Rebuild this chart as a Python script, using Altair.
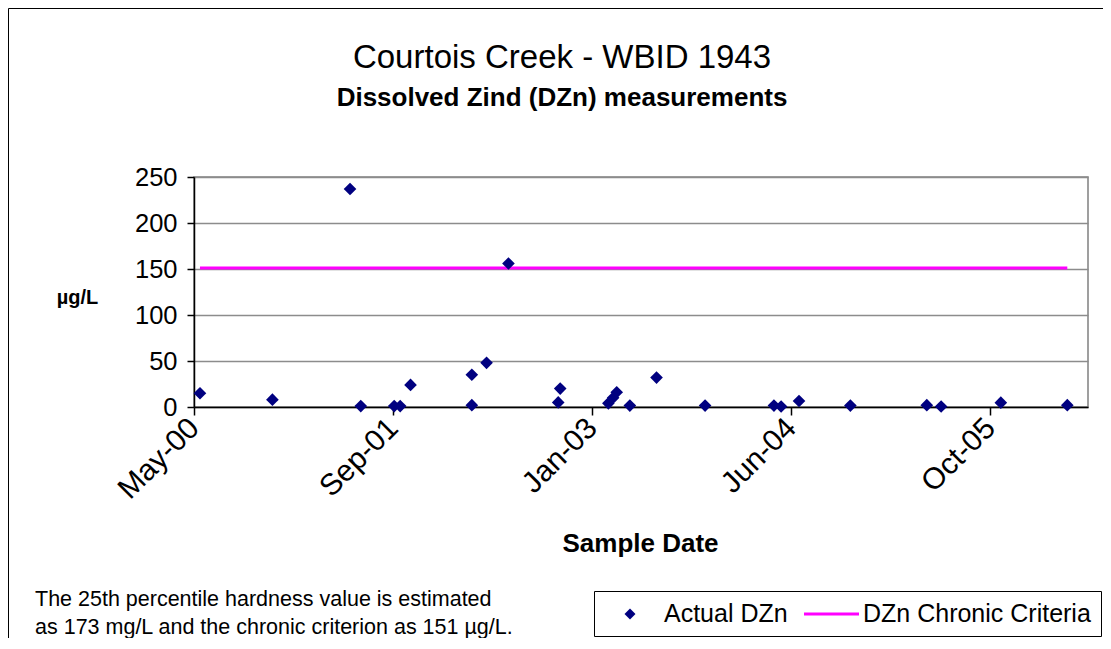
import altair as alt
import pandas as pd

# ---- data ----
sample_dates = [
    "2000-05-16", "2000-11-14", "2001-05-28", "2001-06-24", "2001-09-16",
    "2001-10-01", "2001-10-27", "2002-03-30", "2002-03-30", "2002-05-06",
    "2002-06-30", "2002-11-02", "2002-11-07", "2003-03-08", "2003-03-20",
    "2003-03-29", "2003-05-01", "2003-07-07", "2003-11-06", "2004-04-27",
    "2004-05-15", "2004-06-29", "2004-11-05", "2005-05-16", "2005-06-21",
    "2005-11-18", "2006-05-04",
]
dzn_values = [
    15, 8, 237, 1, 1,
    1, 24, 35, 2, 48,
    156, 5, 20, 4, 10,
    16, 1.5, 32, 1.5, 1.5,
    0.5, 6.5, 1.5, 2, 0.5,
    4.7, 2,
]
series_names = ["Actual DZn", "DZn Chronic Criteria"]
series_colors = ["#000080", "#FF00FF"]
criterion_value = 151
x_domain = [(2000, 5, 1), (2006, 6, 25)]
x_tick_dates = [(2000, 5, 1), (2001, 9, 13), (2003, 1, 26), (2004, 6, 9), (2005, 10, 22)]
y_ticks = [0, 50, 100, 150, 200, 250]
title_text = "Courtois Creek - WBID 1943"
subtitle_text = "Dissolved Zind (DZn) measurements"
note_lines = [
    "The 25th percentile hardness value is estimated",
    "as 173 mg/L and the chronic criterion as 151 µg/L.",
]
FONT = "Liberation Sans"


def dt(t):
    return alt.DateTime(year=t[0], month=t[1], date=t[2])


df = pd.DataFrame({
    "date": pd.to_datetime(sample_dates),
    "value": dzn_values,
    "series": series_names[0],
})
crit = pd.DataFrame({
    "date": pd.to_datetime([sample_dates[0], sample_dates[-1]]),
    "value": [criterion_value, criterion_value],
    "series": series_names[1],
})
one = pd.DataFrame({"k": [0]})

xscale = alt.Scale(domain=[dt(x_domain[0]), dt(x_domain[1])], nice=False)
yscale = alt.Scale(domain=[0, 250], nice=False)

xaxis = alt.Axis(
    values=[dt(t) for t in x_tick_dates], format="%b-%y",
    labelAngle=-45, labelAlign="right", labelBaseline="middle",
    labelFontSize=30, labelPadding=8, tickSize=8, grid=False,
    title="Sample Date", titleFontSize=26, titleFontWeight="bold",
    titleX=446, titleY=136, titleAlign="center", titleBaseline="middle",
    titleAnchor="start",
)
yaxis = alt.Axis(
    values=y_ticks, labelFontSize=25.5, tickSize=7, labelPadding=10,
    grid=True, title="µg/L", titleAngle=0, titleX=-117, titleY=120,
    titleAlign="center", titleBaseline="middle", titleFontSize=20,
    titleFontWeight="bold", titleAnchor="start",
)

# chart-area border (decoration)
border = alt.Chart(one).mark_rect(
    fillOpacity=0, stroke="black", strokeWidth=1
).encode(
    x=alt.value(-185.5), y=alt.value(-168.5),
    x2=alt.value(3000), y2=alt.value(3000),
)

line = alt.Chart(crit).mark_line(strokeWidth=3, color=series_colors[1]).encode(
    x=alt.X("date:T", scale=xscale, axis=xaxis),
    y=alt.Y("value:Q", scale=yscale, axis=yaxis),
)

points = alt.Chart(df).mark_point(
    shape="diamond", filled=True, size=160, opacity=1, color=series_colors[0]
).encode(
    x=alt.X("date:T", scale=xscale, axis=xaxis),
    y=alt.Y("value:Q", scale=yscale, axis=yaxis),
)

title = alt.Chart(one).mark_text(
    align="center", baseline="middle", fontSize=33, font=FONT, color="black"
).encode(x=alt.value(368), y=alt.value(-119), text=alt.value(title_text))

subtitle = alt.Chart(one).mark_text(
    align="center", baseline="middle", fontSize=26, fontWeight="bold",
    font=FONT, color="black"
).encode(x=alt.value(368), y=alt.value(-79), text=alt.value(subtitle_text))

note = alt.Chart(one).mark_text(
    align="left", baseline="middle", fontSize=21.5, lineHeight=28,
    font=FONT, color="black",
).encode(x=alt.value(-159), y=alt.value(423), text=alt.value(note_lines))

# legend box (Excel-style, one row)
leg_box = alt.Chart(one).mark_rect(
    fill="white", stroke="black", strokeWidth=1
).encode(
    x=alt.value(400.5), x2=alt.value(907.5),
    y=alt.value(414.5), y2=alt.value(459.5),
)
leg_diamond = alt.Chart(one).mark_point(
    shape="diamond", filled=True, size=120, opacity=1, color=series_colors[0]
).encode(x=alt.value(436), y=alt.value(437))
leg_line = alt.Chart(one).mark_rule(
    strokeWidth=3, color=series_colors[1]
).encode(x=alt.value(610), x2=alt.value(665), y=alt.value(437))
leg_text1 = alt.Chart(one).mark_text(
    align="left", baseline="middle", fontSize=25, font=FONT, color="black"
).encode(x=alt.value(470), y=alt.value(437), text=alt.value(series_names[0]))
leg_text2 = alt.Chart(one).mark_text(
    align="left", baseline="middle", fontSize=25, font=FONT, color="black"
).encode(x=alt.value(669), y=alt.value(437), text=alt.value(series_names[1]))

chart = alt.layer(
    border, line, points, title, subtitle, note,
    leg_box, leg_diamond, leg_line, leg_text1, leg_text2,
).properties(
    width=894, height=230,
    autosize=alt.AutoSizeParams(type="none"),
    padding={"left": 186, "top": 169, "right": 15, "bottom": 231},
).configure(
    font=FONT,
).configure_view(
    stroke="#808080", strokeWidth=1.5,
).configure_axis(
    domainColor="black", domainWidth=1.5, tickColor="black", tickWidth=1.5,
    labelColor="black", titleColor="black", labelFont=FONT, titleFont=FONT,
    gridColor="#8c8c8c", gridWidth=1.5,
)

chart.save("out.html", embed_options={"renderer": "svg", "actions": False})
